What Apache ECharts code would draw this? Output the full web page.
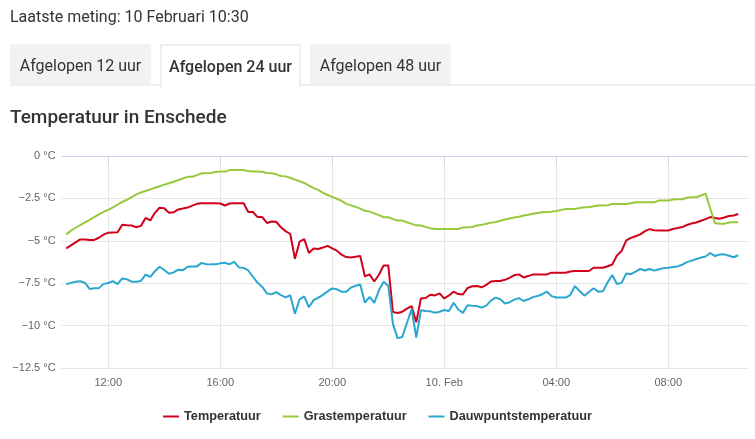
<!DOCTYPE html>
<html><head><meta charset="utf-8">
<script src="https://cdn.jsdelivr.net/npm/echarts@6/dist/echarts.min.js"></script>
<style>
html,body{margin:0;padding:0;background:#fff;width:755px;height:439px;overflow:hidden;font-family:Roboto,"Noto Sans",sans-serif;color:#333}
#chart{position:absolute;left:0;top:0;width:755px;height:439px}
.hdr{position:absolute;z-index:2}
#meting{left:10px;top:6px;font-size:16px;color:#333;line-height:22px}
.tab{position:absolute;z-index:2;top:44px;height:41px;width:141px;background:#f2f2f2;font-size:16px;line-height:43px;text-align:center;color:#333;box-sizing:border-box}
.tab.active{background:#fff;border:2px solid #efefef;border-bottom:none;font-weight:500;height:43px;line-height:41px}
#tabline{position:absolute;z-index:1;left:10px;right:0;top:84px;height:2px;background:#efefef}
#title{left:10px;top:105px;font-size:19px;font-weight:500;line-height:24px;color:#333}
</style></head>
<body>
<div id="meting" class="hdr">Laatste meting: 10 Februari 10:30</div>
<div id="tabline"></div>
<div class="tab" style="left:10px">Afgelopen 12 uur</div>
<div class="tab active" style="left:160px">Afgelopen 24 uur</div>
<div class="tab" style="left:310px">Afgelopen 48 uur</div>
<div id="title" class="hdr">Temperatuur in Enschede</div>
<div id="chart"></div>
<script>
// 10-minute readings, 9 Feb 10:30 .. 10 Feb 10:30
const temperatuur = [
-5.45,-5.27,-5.09,-4.92,-4.92,-4.95,-4.95,-4.82,-4.64,-4.52,
-4.51,-4.50,-4.05,-4.08,-4.10,-4.20,-4.12,-3.65,-3.80,-3.35,
-3.05,-3.08,-3.35,-3.32,-3.15,-3.10,-3.04,-2.93,-2.82,-2.79,
-2.79,-2.79,-2.79,-2.80,-2.92,-2.80,-2.79,-2.79,-2.79,-3.30,
-3.30,-3.60,-3.60,-3.95,-3.86,-3.88,-4.20,-4.43,-4.60,-6.06,
-5.05,-4.90,-5.72,-5.45,-5.48,-5.40,-5.30,-5.45,-5.58,-5.82,
-5.96,-5.98,-5.94,-5.90,-7.10,-6.98,-7.40,-7.00,-6.45,-6.45,
-9.20,-9.26,-9.18,-9.00,-8.85,-9.80,-8.40,-8.37,-8.18,-8.22,
-8.10,-8.40,-8.22,-8.00,-8.14,-8.16,-7.78,-7.68,-7.67,-7.74,
-7.60,-7.40,-7.37,-7.37,-7.30,-7.19,-7.03,-6.98,-7.16,-7.08,
-6.98,-6.98,-6.98,-6.98,-6.88,-6.88,-6.88,-6.88,-6.81,-6.78,
-6.78,-6.78,-6.78,-6.59,-6.59,-6.59,-6.50,-6.40,-5.87,-5.60,
-4.98,-4.83,-4.73,-4.62,-4.43,-4.31,-4.38,-4.39,-4.39,-4.39,
-4.30,-4.25,-4.19,-4.07,-3.98,-3.92,-3.82,-3.72,-3.60,-3.66,
-3.70,-3.63,-3.54,-3.51,-3.42
];
const grastemperatuur = [
-4.62,-4.40,-4.23,-4.07,-3.91,-3.77,-3.60,-3.44,-3.29,-3.18,
-3.03,-2.87,-2.71,-2.58,-2.43,-2.26,-2.15,-2.06,-1.97,-1.87,
-1.78,-1.69,-1.61,-1.52,-1.42,-1.33,-1.23,-1.22,-1.13,-1.02,
-1.02,-1.00,-0.94,-0.92,-0.92,-0.83,-0.82,-0.82,-0.82,-0.89,
-0.92,-0.92,-0.93,-1.00,-1.02,-1.08,-1.18,-1.20,-1.28,-1.39,
-1.49,-1.59,-1.75,-1.89,-2.00,-2.17,-2.30,-2.41,-2.52,-2.65,
-2.82,-2.91,-3.00,-3.10,-3.23,-3.28,-3.38,-3.49,-3.61,-3.61,
-3.72,-3.80,-3.81,-3.91,-4.00,-4.09,-4.10,-4.18,-4.26,-4.30,
-4.30,-4.30,-4.30,-4.30,-4.30,-4.21,-4.20,-4.19,-4.10,-4.06,
-4.00,-3.93,-3.89,-3.82,-3.74,-3.68,-3.63,-3.58,-3.51,-3.46,
-3.41,-3.36,-3.32,-3.30,-3.28,-3.24,-3.19,-3.13,-3.12,-3.12,
-3.06,-3.02,-3.02,-2.96,-2.92,-2.92,-2.90,-2.83,-2.83,-2.83,
-2.83,-2.79,-2.73,-2.73,-2.73,-2.73,-2.73,-2.63,-2.63,-2.63,
-2.56,-2.55,-2.55,-2.46,-2.43,-2.43,-2.33,-2.22,-3.10,-3.95,
-4.00,-3.99,-3.92,-3.90,-3.90
];
const dauwpuntstemperatuur = [
-7.56,-7.48,-7.41,-7.39,-7.47,-7.84,-7.80,-7.79,-7.54,-7.49,
-7.38,-7.55,-7.22,-7.27,-7.41,-7.41,-7.37,-7.00,-7.13,-6.79,
-6.53,-6.72,-6.94,-6.86,-6.70,-6.73,-6.53,-6.51,-6.51,-6.30,
-6.38,-6.39,-6.39,-6.33,-6.30,-6.38,-6.24,-6.57,-6.59,-6.75,
-7.12,-7.48,-7.72,-8.10,-8.16,-8.03,-8.20,-8.34,-8.21,-9.30,
-8.45,-8.28,-8.92,-8.50,-8.35,-8.19,-7.98,-7.81,-7.86,-8.00,
-8.00,-7.76,-7.65,-7.58,-8.65,-8.30,-8.66,-7.92,-7.42,-7.65,
-9.90,-10.74,-10.67,-9.85,-9.02,-10.70,-9.10,-9.14,-9.16,-9.24,
-9.18,-9.08,-9.14,-8.65,-9.05,-9.25,-8.80,-8.83,-8.85,-8.94,
-8.82,-8.53,-8.35,-8.45,-8.70,-8.62,-8.47,-8.38,-8.55,-8.45,
-8.32,-8.26,-8.15,-8.00,-8.26,-8.34,-8.35,-8.35,-8.20,-7.67,
-7.96,-8.23,-8.02,-7.80,-8.00,-7.97,-7.45,-7.02,-7.55,-7.48,
-6.93,-6.97,-6.82,-6.66,-6.75,-6.66,-6.76,-6.68,-6.61,-6.59,
-6.54,-6.51,-6.41,-6.26,-6.17,-6.07,-5.99,-5.93,-5.72,-5.90,
-5.81,-5.80,-5.88,-5.97,-5.85
];
const seriesNames = ['Temperatuur','Grastemperatuur','Dauwpuntstemperatuur'];
const seriesColors = ['#d0021b','#97c93d','#2ba6cf'];
const yTicks = [0,-2.5,-5,-7.5,-10,-12.5];

// time categories: 9 Feb 10:20 .. 10 Feb 10:50 in 10-minute steps (axis padding at both ends)
function pad(n){return (n<10?'0':'')+n;}
const categories = [];
for (let m = 10*60+20; m <= 34*60+50; m += 10) {
  const day = m >= 24*60 ? 10 : 9;
  const h = Math.floor(m/60)%24, mm = m%60;
  categories.push(day + ' ' + pad(h) + ':' + pad(mm));
}
const lead = [null], tail = [null, null];
function padData(a){return lead.concat(a, tail);}

function isTick(idx, val){
  const t = val.split(' ')[1];
  const h = parseInt(t.slice(0,2),10), mm = t.slice(3);
  return mm === '00' && h % 4 === 0;
}
function fmtX(val){
  const parts = val.split(' ');
  if (parts[1] === '00:00') return parts[0] + '. Feb';
  return parts[1];
}

const chart = echarts.init(document.getElementById('chart'), null, {renderer:'canvas'});
chart.setOption({
  animation:false,
  backgroundColor:'transparent',
  color: seriesColors,
  grid:{left:61.6, right:7.4, top:156, bottom:71, containLabel:false},
  legend:{
    left:'center', top:405, icon:'rect', itemWidth:16, itemHeight:2, itemGap:22,
    textStyle:{fontFamily:'Liberation Sans', fontWeight:'bold', fontSize:12.7, color:'#333'},
    data: seriesNames
  },
  xAxis:{
    type:'category', boundaryGap:false, data:categories,
    axisLine:{lineStyle:{color:'#ccd6eb', width:1}},
    axisTick:{show:true, interval:isTick, length:9, lineStyle:{color:'#ccd6eb'}},
    axisLabel:{interval:isTick, formatter:fmtX, margin:9, color:'#666', fontSize:11, fontFamily:'Liberation Sans'},
    splitLine:{show:true, interval:isTick, lineStyle:{color:'#e6e6e6', width:1}}
  },
  yAxis:{
    type:'value', min:-12.5, max:0, interval:2.5,
    axisLine:{show:false}, axisTick:{show:false},
    axisLabel:{margin:6, color:'#666', fontSize:11, fontFamily:'Liberation Sans',
      formatter:function(v){return (v<0 ? '\u2212' + Math.abs(v) : String(v)) + ' \u00b0C';}},
    splitLine:{lineStyle:{color:'#e6e6e6', width:1}}
  },
  series:[
    {name:seriesNames[0], type:'line', data:padData(temperatuur), showSymbol:false, symbol:'none', lineStyle:{width:2, color:seriesColors[0]}, itemStyle:{color:seriesColors[0]}},
    {name:seriesNames[1], type:'line', data:padData(grastemperatuur), showSymbol:false, symbol:'none', lineStyle:{width:2, color:seriesColors[1]}, itemStyle:{color:seriesColors[1]}},
    {name:seriesNames[2], type:'line', data:padData(dauwpuntstemperatuur), showSymbol:false, symbol:'none', lineStyle:{width:2, color:seriesColors[2]}, itemStyle:{color:seriesColors[2]}}
  ]
});
</script>
</body></html>
